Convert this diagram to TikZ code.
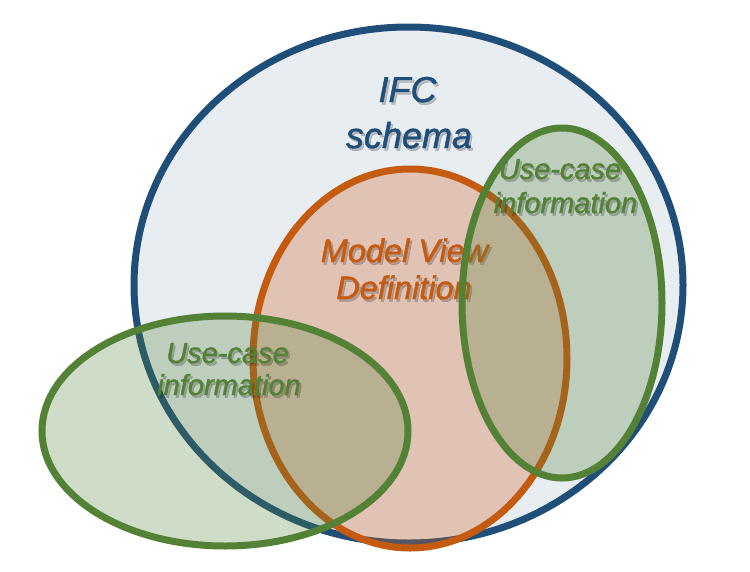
\documentclass[tikz,border=0pt]{standalone}
\usepackage{fontspec}
\setmainfont{Liberation Sans}[ItalicFeatures={FakeBold=1.3}]
\begin{document}
\begin{tikzpicture}[x=1pt,y=-1pt]
\definecolor{ifcblue}{RGB}{31,78,121}
\definecolor{ifcfill}{RGB}{232,237,242}
\definecolor{mvdorange}{RGB}{197,90,17}
\definecolor{mvdfill}{RGB}{210,100,40}
\definecolor{ucgreen}{RGB}{83,129,53}
\tikzset{
  venn/.style={line width=7pt},
  lbl/.style={anchor=base, inner sep=0pt, font=\itshape},
  shadowtext/.style={lbl, text=black, text opacity=0.2},
}
\useasboundingbox (0,0) rectangle (750,571);
% IFC schema
\coordinate (cIFC) at (408.5,285);
\draw[venn, draw=ifcblue, fill=ifcfill] (cIFC) ellipse [x radius=274.5, y radius=258];
% Model View Definition
\coordinate (cMVD) at (410,358.5);
\draw[venn, draw=mvdorange, fill=mvdfill, fill opacity=0.3] (cMVD) ellipse [x radius=157, y radius=189.5];
\node[shadowtext, font=\itshape\fontsize{32.5}{36}\selectfont] (mvd1s) at (406.5,264.5) {Model View};
\node[shadowtext, font=\itshape\fontsize{32.5}{36}\selectfont] (mvd2s) at (406,301.5) {Definition};
\node[lbl, text=mvdorange, font=\itshape\fontsize{32.5}{36}\selectfont] (mvd1) at (404.5,262) {Model View};
\node[lbl, text=mvdorange, font=\itshape\fontsize{32.5}{36}\selectfont] (mvd2) at (404,299) {Definition};
% Use-case left
\coordinate (cUCL) at (225,431);
\draw[venn, draw=ucgreen, fill=ucgreen, fill opacity=0.28] (cUCL) ellipse [x radius=183, y radius=115];
% Use-case right
\coordinate (cUCR) at (562,303);
\draw[venn, draw=ucgreen, fill=ucgreen, fill opacity=0.28] (cUCR) ellipse [x radius=100, y radius=175];
% Use-case texts
\node[shadowtext, font=\itshape\fontsize{29}{32}\selectfont] (ucl1s) at (229.5,365.5) {Use-case};
\node[shadowtext, font=\itshape\fontsize{29}{32}\selectfont] (ucl2s) at (231,397.5) {information};
\node[lbl, text=ucgreen, font=\itshape\fontsize{29}{32}\selectfont] (ucl1) at (227.5,363) {Use-case};
\node[lbl, text=ucgreen, font=\itshape\fontsize{29}{32}\selectfont] (ucl2) at (229,395) {information};
\node[shadowtext, font=\itshape\fontsize{29}{32}\selectfont] (ucr1s) at (562,181.5) {Use-case};
\node[shadowtext, font=\itshape\fontsize{29}{32}\selectfont] (ucr2s) at (567.5,215.5) {information};
\node[lbl, text=ucgreen, font=\itshape\fontsize{29}{32}\selectfont] (ucr1) at (560,179) {Use-case};
\node[lbl, text=ucgreen, font=\itshape\fontsize{29}{32}\selectfont] (ucr2) at (565.5,213) {information};
% IFC texts
\node[shadowtext, font=\itshape\fontsize{36}{40}\selectfont] (ifc1s) at (409.5,104.5) {IFC};
\node[shadowtext, font=\itshape\fontsize{36}{40}\selectfont] (ifc2s) at (411,150.5) {schema};
\node[lbl, text=ifcblue, font=\itshape\fontsize{36}{40}\selectfont] (ifc1) at (407.5,102) {IFC};
\node[lbl, text=ifcblue, font=\itshape\fontsize{36}{40}\selectfont] (ifc2) at (409,148) {schema};
\end{tikzpicture}
\end{document}
